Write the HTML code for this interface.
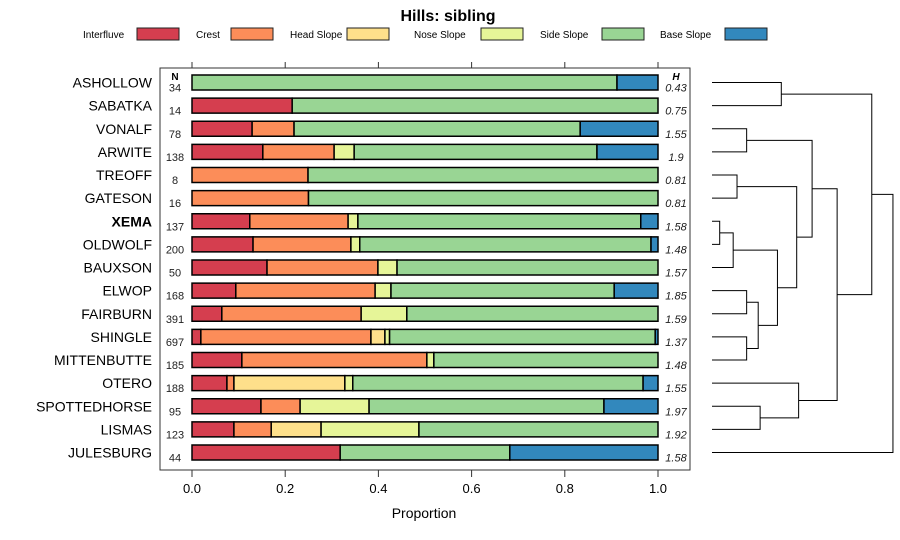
<!DOCTYPE html>
<html><head><meta charset="utf-8"><style>
body{margin:0;background:#fff;}
svg{display:block;font-family:"Liberation Sans",sans-serif;}
</style></head><body>
<svg id="chart" width="900" height="540" xmlns="http://www.w3.org/2000/svg">
<text x="448" y="21" text-anchor="middle" font-size="16" font-weight="bold">Hills: sibling</text>
<g id="legend"></g>
<rect x="160" y="68" width="530" height="402" fill="none" stroke="#333" stroke-width="1"/>
<g id="bars"></g>
<g id="axis"></g>
<g id="dendro" stroke="#000" stroke-width="1" fill="none"></g>
<text x="424" y="518" text-anchor="middle" font-size="14">Proportion</text>
</svg>
<script>
const classes = ["Interfluve","Crest","Head Slope","Nose Slope","Side Slope","Base Slope"];
const colors = ["#D53E4F","#FC8D59","#FEE08B","#E6F598","#99D594","#3288BD"];
const names = ["ASHOLLOW","SABATKA","VONALF","ARWITE","TREOFF","GATESON","XEMA","OLDWOLF","BAUXSON","ELWOP","FAIRBURN","SHINGLE","MITTENBUTTE","OTERO","SPOTTEDHORSE","LISMAS","JULESBURG"];
const nVals = [34,14,78,138,8,16,137,200,50,168,391,697,185,188,95,123,44];
const hVals = ["0.43","0.75","1.55","1.9","0.81","0.81","1.58","1.48","1.57","1.85","1.59","1.37","1.48","1.55","1.97","1.92","1.58"];
const interfluve = [0,0.215,0.129,0.152,0,0,0.124,0.131,0.161,0.094,0.064,0.019,0.107,0.075,0.148,0.09,0.318];
const crest = [0,0,0.09,0.153,0.249,0.25,0.211,0.21,0.238,0.299,0.299,0.365,0.397,0.015,0.084,0.08,0];
const headSlope = [0,0,0,0,0,0,0,0,0,0,0,0.030,0,0.238,0,0.107,0];
const noseSlope = [0,0,0,0.043,0,0,0.021,0.019,0.041,0.034,0.098,0.010,0.015,0.017,0.148,0.21,0];
const sideSlope = [0.912,0.785,0.614,0.521,0.751,0.75,0.607,0.625,0.56,0.479,0.539,0.570,0.481,0.623,0.504,0.513,0.364];
const baseSlope = [0.088,0,0.167,0.131,0,0,0.037,0.015,0,0.094,0,0.006,0,0.032,0.116,0,0.318];
const xTicks = [0,0.2,0.4,0.6,0.8,1.0];
const xTickLabels = ["0.0","0.2","0.4","0.6","0.8","1.0"];
// dendrogram merges: [left, right, height]; negative = leaf index
const merges = [[-0,-1,0.18],[-2,-3,0.09],[-4,-5,0.065],[-6,-7,0.02],[3,-8,0.055],[-9,-10,0.09],[-11,-12,0.09],[5,6,0.12],[4,7,0.17],[2,8,0.22],[1,9,0.26],[-14,-15,0.125],[-13,11,0.225],[10,12,0.325],[0,13,0.415],[14,-16,0.47]];

const NS="http://www.w3.org/2000/svg";
function mk(tag,attrs,parent){const e=document.createElementNS(NS,tag);for(const k in attrs)e.setAttribute(k,attrs[k]);parent.appendChild(e);return e;}
const x = v => 192 + v*466;
const y = i => 82.5 + i*23.125;
const series=[interfluve,crest,headSlope,noseSlope,sideSlope,baseSlope];

// legend
const legX=[[83,137],[196,231],[290,347],[414,481],[540,602],[660,725]];
const lg=document.getElementById('legend');
classes.forEach((c,k)=>{
  const t=mk('text',{x:legX[k][0],y:38,'font-size':10},lg);t.textContent=c;
  
  
  const r=mk('rect',{x:legX[k][1],y:28,width:42,height:12,fill:colors[k],stroke:'#222','stroke-width':1},lg);
  
  
});

const bars=document.getElementById('bars');
let t=mk('text',{x:175,y:80,'font-size':10,'font-weight':'bold','text-anchor':'middle'},bars);t.textContent='N';


t=mk('text',{x:676,y:80,'font-size':10,'font-weight':'bold','font-style':'italic','text-anchor':'middle'},bars);t.textContent='H';


names.forEach((n,i)=>{
  const cy=y(i);
  const lab=mk('text',{x:152,y:cy+5,'font-size':14,'text-anchor':'end','font-weight':n==='XEMA'?'bold':'normal'},bars);lab.textContent=n;
  
  
  const nt=mk('text',{x:175,y:cy+9,'font-size':11,'text-anchor':'middle',fill:'#222'},bars);nt.textContent=nVals[i];
  
  
  const ht=mk('text',{x:676,y:cy+9,'font-size':11,'font-style':'italic','text-anchor':'middle',fill:'#222'},bars);ht.textContent=hVals[i];
  
  
  let acc=0;
  series.forEach((s,k)=>{
    const v=s[i]; if(v<=0){return;}
    const r=mk('rect',{x:x(acc),y:cy-7.5,width:x(acc+v)-x(acc),height:15,fill:colors[k],stroke:'#000','stroke-width':1.5},bars);
    
    
    acc+=v;
  });
});

const ax=document.getElementById('axis');
xTicks.forEach((v,k)=>{
  mk('line',{x1:x(v),x2:x(v),y1:470,y2:477,stroke:'#333'},ax);
  mk('line',{x1:x(v),x2:x(v),y1:62,y2:68,stroke:'#333'},ax);
  const tl=mk('text',{x:x(v),y:493,'font-size':13,'text-anchor':'middle'},ax);tl.textContent=xTickLabels[k];
  
  
});

// dendrogram
const dg=document.getElementById('dendro');
const dx=h=>712+h*385;
const nodes=[];
function pos(r){ if(r<=0 && !(r>0)){ if(Object.is(r,0)&&false){} } }
function get(r,isLeaf){ return isLeaf?{x:712,y:y(r)}:nodes[r]; }
merges.forEach((m,j)=>{
  const a = (m[0]<0||Object.is(m[0],-0))?get(-m[0],true):get(m[0],false);
  const b = (m[1]<0||Object.is(m[1],-0))?get(-m[1],true):get(m[1],false);
  const hx=dx(m[2]);
  const p=mk('path',{d:`M${a.x},${a.y}H${hx}V${b.y}H${b.x}`},dg);
  
  
  nodes.push({x:hx,y:(a.y+b.y)/2});
});
</script>
</body></html>
